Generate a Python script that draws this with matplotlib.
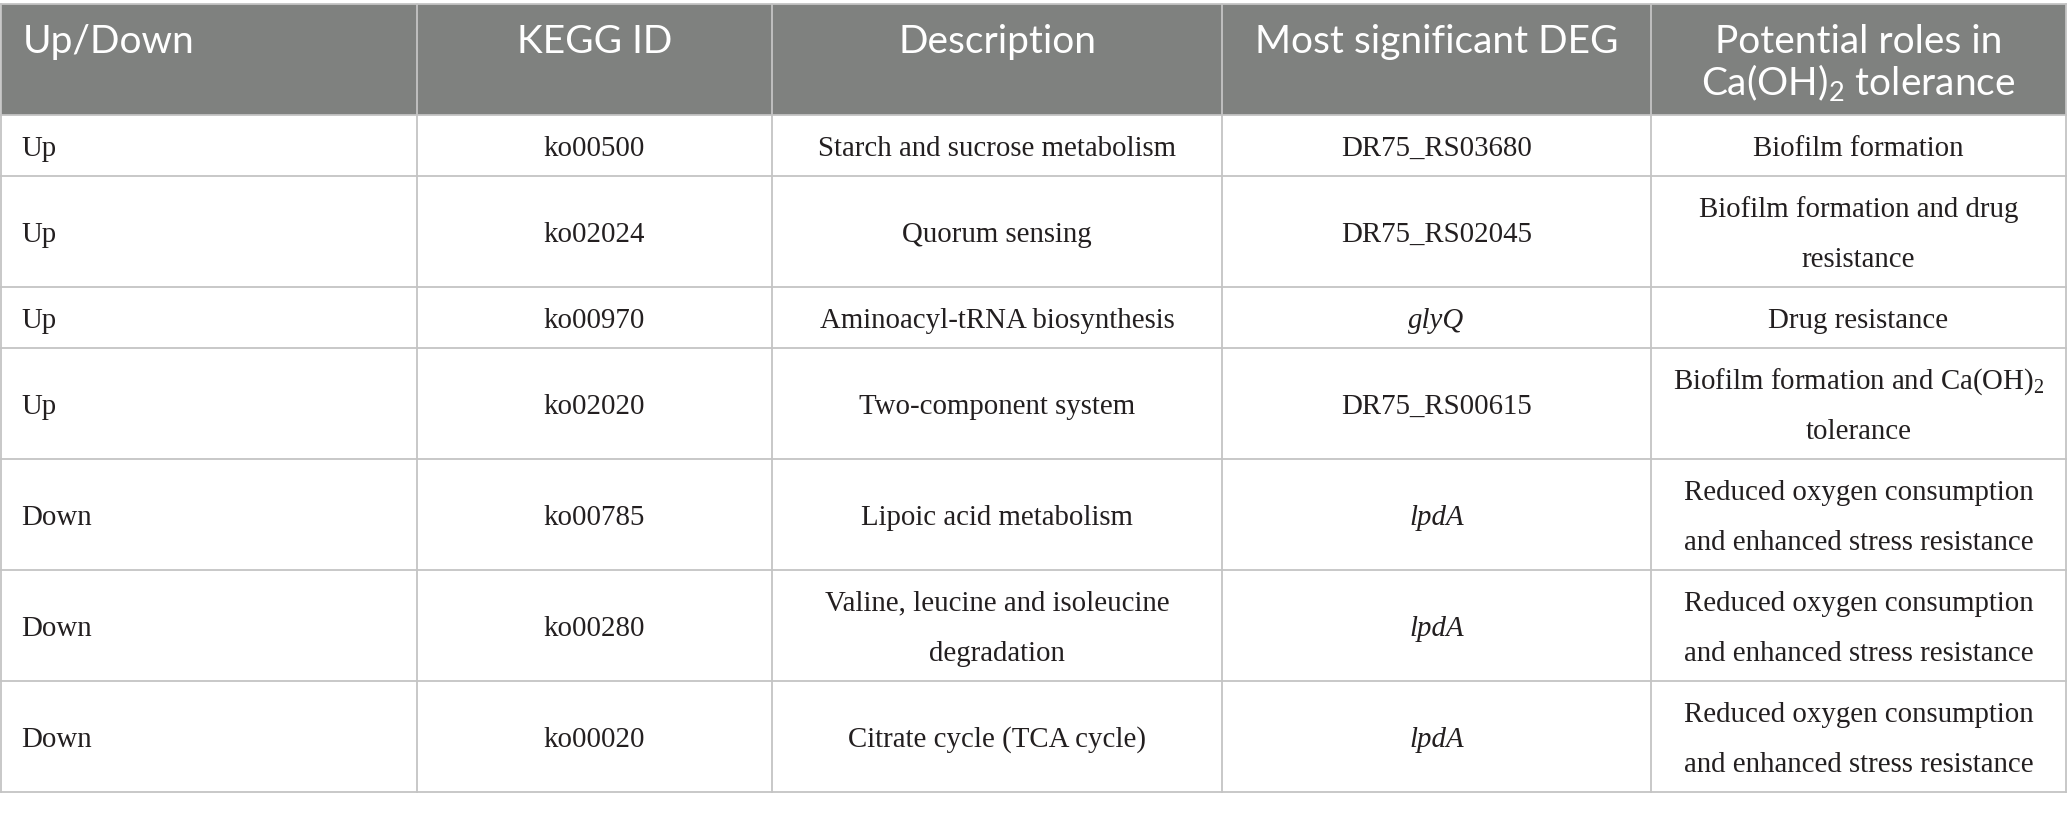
import matplotlib
matplotlib.use('Agg')
import matplotlib.pyplot as plt
from matplotlib.patches import Rectangle

# table content
headers = ['Up/Down', 'KEGG ID', 'Description', 'Most significant DEG',
           'Potential roles in\nCa(OH)$_2$ tolerance']
up_down = ['Up', 'Up', 'Up', 'Up', 'Down', 'Down', 'Down']
kegg_ids = ['ko00500', 'ko02024', 'ko00970', 'ko02020', 'ko00785', 'ko00280', 'ko00020']
descriptions = ['Starch and sucrose metabolism', 'Quorum sensing',
                'Aminoacyl-tRNA biosynthesis', 'Two-component system',
                'Lipoic acid metabolism',
                'Valine, leucine and isoleucine\ndegradation',
                'Citrate cycle (TCA cycle)']
degs = ['DR75_RS03680', 'DR75_RS02045', 'glyQ', 'DR75_RS00615', 'lpdA', 'lpdA', 'lpdA']
deg_italic = [False, False, True, False, True, True, True]
roles = ['Biofilm formation',
         'Biofilm formation and drug\nresistance',
         'Drug resistance',
         'Biofilm formation and Ca(OH)$_2$\ntolerance',
         'Reduced oxygen consumption\nand enhanced stress resistance',
         'Reduced oxygen consumption\nand enhanced stress resistance',
         'Reduced oxygen consumption\nand enhanced stress resistance']

plt.rcParams['mathtext.default'] = 'regular'

# layout (pixels)
col_edges = [1, 417, 772, 1222, 1651, 2066]
top = 4
line_h = 50
pad_h = 11
header_color = '#7f817f'
grid_color = '#c4c4c4'
text_color = '#231f20'
head_font = dict(family='Lato', fontsize=28, color='white')
body_font = dict(family='Liberation Serif', fontsize=20.8, color=text_color)

fig = plt.figure(figsize=(20.68, 8.13), dpi=100)
ax = fig.add_axes([0, 0, 1, 1])
ax.set_xlim(0, 2068)
ax.set_ylim(813, 0)
ax.axis('off')

rows = list(zip(up_down, kegg_ids, descriptions, degs, roles))
n_lines = [max(c.count('\n') + 1 for c in r) for r in rows]
row_h = [pad_h + line_h * n for n in n_lines]
header_h = pad_h + line_h * 2

# header
ax.add_patch(Rectangle((col_edges[0], top), col_edges[-1] - col_edges[0], header_h,
                       facecolor=header_color, edgecolor='none', zorder=1))
for j, h in enumerate(headers):
    for k, line in enumerate(h.split('\n')):
        y = top + 49 + k * 42
        if j == 0:
            ax.text(col_edges[0] + 22, y, line, ha='left', va='baseline', zorder=3, **head_font)
        else:
            ax.text((col_edges[j] + col_edges[j + 1]) / 2, y, line, ha='center', va='baseline',
                    zorder=3, **head_font)

# body
y0 = top + header_h
row_tops = []
for i, r in enumerate(rows):
    row_tops.append(y0)
    yc = y0 + row_h[i] / 2
    for j, cell in enumerate(r):
        lines = cell.split('\n')
        n = len(lines)
        for k, line in enumerate(lines):
            y = yc + 10 + (k - (n - 1) / 2) * line_h
            style = 'italic' if (j == 3 and deg_italic[i]) else 'normal'
            if j == 0:
                ax.text(col_edges[0] + 20, y, line, ha='left', va='baseline',
                        style=style, zorder=3, **body_font)
            else:
                ax.text((col_edges[j] + col_edges[j + 1]) / 2, y, line, ha='center',
                        va='baseline', style=style, zorder=3, **body_font)
    y0 += row_h[i]
bottom = y0

# grid lines
ax.plot([col_edges[0], col_edges[-1]], [top, top], color=grid_color, lw=1.3, zorder=2)
ax.plot([col_edges[0], col_edges[-1]], [top + header_h] * 2, color=grid_color, lw=1.3, zorder=2)
for yt in row_tops[1:] + [bottom]:
    ax.plot([col_edges[0], col_edges[-1]], [yt, yt], color=grid_color, lw=1.3, zorder=2)
for xe in col_edges:
    ax.plot([xe, xe], [top, bottom], color=grid_color, lw=1.3, zorder=2)

fig.savefig('out.png', dpi=100, facecolor='white')
